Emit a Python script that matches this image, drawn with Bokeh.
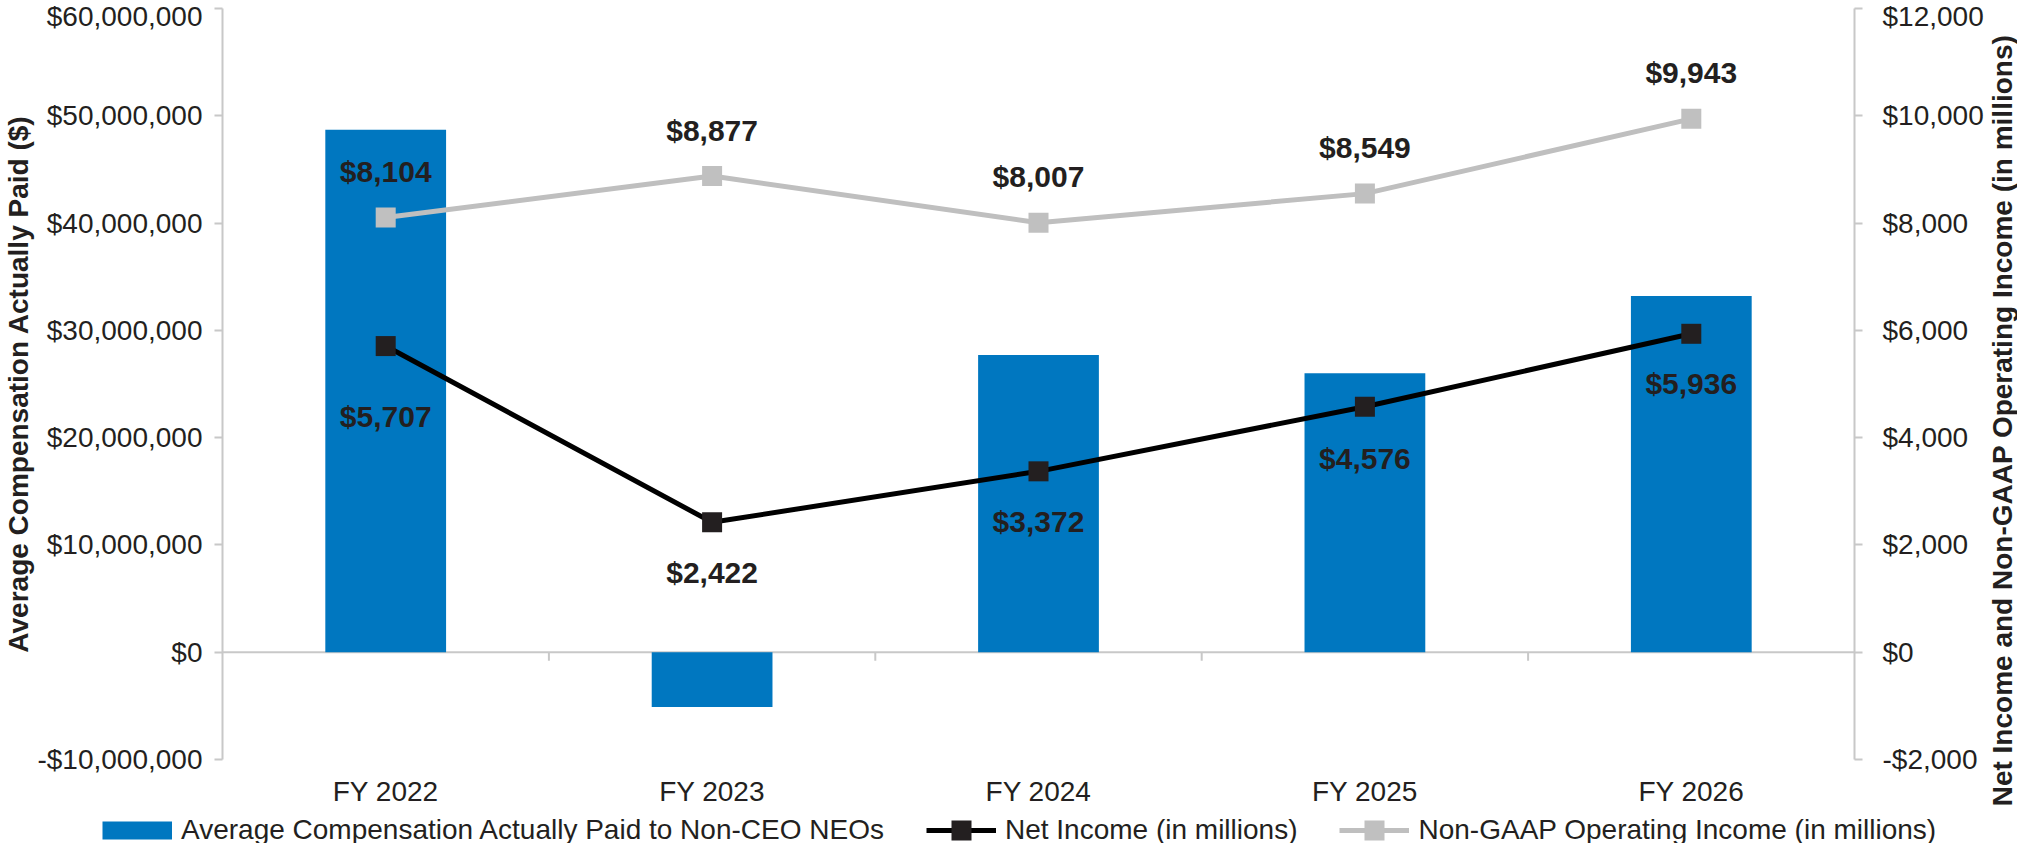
import math
from bokeh.plotting import figure
from bokeh.layouts import row, column
from bokeh.models import (Range1d, LinearAxis, FactorRange, ColumnDataSource, LabelSet, Label,
                          Legend, LegendItem, Span, FixedTicker)
from bokeh.core.properties import value
from bokeh.transform import dodge
from bokeh.embed import file_html
from bokeh.resources import INLINE

# ---- data ----
categories = ["FY 2022", "FY 2023", "FY 2024", "FY 2025", "FY 2026"]
avg_comp_paid = [48700000, -5100000, 27700000, 26000000, 33200000]
net_income = [5707, 2422, 3372, 4576, 5936]
non_gaap_op_income = [8104, 8877, 8007, 8549, 9943]

left_ticks = [-10000000, 0, 10000000, 20000000, 30000000, 40000000, 50000000, 60000000]
left_tick_labels = ["-$10,000,000", "$0", "$10,000,000", "$20,000,000", "$30,000,000",
                    "$40,000,000", "$50,000,000", "$60,000,000"]
right_ticks = [-2000, 0, 2000, 4000, 6000, 8000, 10000, 12000]
right_tick_labels = ["-$2,000", "$0", "$2,000", "$4,000", "$6,000", "$8,000", "$10,000", "$12,000"]

left_title = "Average Compensation Actually Paid ($)"
right_title = "Net Income and Non-GAAP Operating Income (in millions)"
legend_labels = ["Average Compensation Actually Paid to Non-CEO NEOs",
                 "Net Income (in millions)",
                 "Non-GAAP Operating Income (in millions)"]

# ---- styles / layout ----
FONT = "Liberation Sans"
TXT = "#231f20"
BLUE = "#0077c0"
GRAY_LINE = "#bfbfbf"
GRAY_MARK = "#c0c0c0"
AXIS_GRAY = "#c8c8c8"
TOTAL_W, TOTAL_H = 2017, 851
MAIN_W, MAIN_H = 1986, 817
ni_label_offsets = [-70, -50, -50, -52, -50]
ng_label_offsets = [46, 46, 46, 46, 46]

src = ColumnDataSource(dict(
    x=categories,
    comp=avg_comp_paid,
    ni=net_income,
    ng=non_gaap_op_income,
    ni_text=[f"${v:,}" for v in net_income],
    ng_text=[f"${v:,}" for v in non_gaap_op_income],
    ni_off=ni_label_offsets,
    ng_off=ng_label_offsets,
))

p = figure(width=MAIN_W, height=MAIN_H, x_range=FactorRange(factors=categories),
           y_range=Range1d(-10000000, 60000000),
           output_backend="svg", toolbar_location=None,
           min_border_top=8, min_border_left=216, min_border_right=131, min_border_bottom=58)
p.extra_y_ranges = {"right": Range1d(-2000, 12000)}
p.xgrid.visible = False
p.ygrid.visible = False
p.outline_line_color = None
p.background_fill_color = "white"

# zero line and boundary ticks
p.add_layout(Span(location=0, dimension="width", line_color=AXIS_GRAY, line_width=2, level="underlay"))
bsrc = ColumnDataSource(dict(x=categories[:-1], y0=[0] * 4, y1=[-800000] * 4))
p.segment(x0=dodge("x", 0.5, range=p.x_range), x1=dodge("x", 0.5, range=p.x_range),
          y0="y0", y1="y1", source=bsrc, line_color=AXIS_GRAY, line_width=2)

p.vbar(x="x", top="comp", width=0.37, source=src, fill_color=BLUE, line_color=None)

p.line("x", "ni", source=src, y_range_name="right", line_color="black", line_width=5)
p.scatter("x", "ni", source=src, y_range_name="right", marker="square", size=20,
          fill_color=TXT, line_color=None)
p.line("x", "ng", source=src, y_range_name="right", line_color=GRAY_LINE, line_width=5)
p.scatter("x", "ng", source=src, y_range_name="right", marker="square", size=20,
          fill_color=GRAY_MARK, line_color=None)

for fld, txt, off in [("ng", "ng_text", "ng_off"), ("ni", "ni_text", "ni_off")]:
    p.add_layout(LabelSet(x="x", y=fld, text=txt, y_offset=off, source=src, y_range_name="right",
                          text_align="center", text_baseline="middle", text_font=value(FONT),
                          text_font_size="30px", text_font_style="bold", text_color=TXT))

# ---- axes ----
def style_y(ax, standoff):
    ax.axis_line_color = AXIS_GRAY
    ax.axis_line_width = 2
    ax.major_tick_line_color = AXIS_GRAY
    ax.major_tick_line_width = 2
    ax.major_tick_in = 0
    ax.major_tick_out = 8
    ax.minor_tick_line_color = None
    ax.major_label_text_font = FONT
    ax.major_label_text_font_size = "28px"
    ax.major_label_text_color = TXT
    ax.major_label_standoff = standoff
    ax.axis_label_text_font = FONT
    ax.axis_label_text_font_size = "28px"
    ax.axis_label_text_font_style = "bold"
    ax.axis_label_text_color = TXT

ly = p.yaxis[0]
ly.ticker = FixedTicker(ticks=left_ticks)
ly.major_label_overrides = dict(zip(left_ticks, left_tick_labels))
ly.axis_label = left_title
style_y(ly, 12)
ly.axis_label_standoff = 0

ry = LinearAxis(y_range_name="right", ticker=FixedTicker(ticks=right_ticks),
                major_label_overrides=dict(zip(right_ticks, right_tick_labels)))
style_y(ry, 20)
p.add_layout(ry, "right")

xa = p.xaxis[0]
xa.axis_line_color = None
xa.major_tick_line_color = None
xa.minor_tick_line_color = None
xa.major_tick_out = 0
xa.major_tick_in = 0
xa.major_label_text_font = FONT
xa.major_label_text_font_size = "28px"
xa.major_label_text_color = TXT
xa.major_label_standoff = 16

# ---- legend strip (single-point proxy renderers draw nothing) ----
lg = figure(width=MAIN_W, height=TOTAL_H - MAIN_H, x_range=Range1d(0, 1), y_range=Range1d(0, 1),
            output_backend="svg", toolbar_location=None, x_axis_type=None, y_axis_type=None,
            min_border_left=102, min_border_top=0, min_border_right=0, min_border_bottom=8)
lg.outline_line_color = None
lg.grid.visible = False
proxy = ColumnDataSource(dict(x=[0.5], y=[0.5]))
leg_bar = lg.line("x", "y", source=proxy, line_color=BLUE, line_width=18, line_cap="butt")
leg_ni = lg.line("x", "y", source=proxy, line_color="black", line_width=5)
leg_ni_sq = lg.line("x", "y", source=proxy, line_color=TXT, line_width=20, line_cap="butt",
                    line_dash="0 25 20 25")
leg_ng = lg.line("x", "y", source=proxy, line_color=GRAY_LINE, line_width=5)
leg_ng_sq = lg.line("x", "y", source=proxy, line_color=GRAY_MARK, line_width=20, line_cap="butt",
                    line_dash="0 25 20 25")

legend = Legend(items=[
    LegendItem(label=legend_labels[0], renderers=[leg_bar]),
    LegendItem(label=legend_labels[1], renderers=[leg_ni, leg_ni_sq]),
    LegendItem(label=legend_labels[2], renderers=[leg_ng, leg_ng_sq]),
], orientation="horizontal", location="left", glyph_width=70, glyph_height=22,
    label_standoff=9, spacing=42, padding=0, margin=0, border_line_color=None,
    background_fill_alpha=0, label_text_font=FONT, label_text_font_size="28px",
    label_text_color=TXT)
lg.add_layout(legend, "center")

# ---- right-hand title (own full-height strip, reads bottom-to-top) ----
tw = TOTAL_W - MAIN_W
t = figure(width=tw, height=TOTAL_H, x_range=Range1d(0, 1), y_range=Range1d(0, 1),
           output_backend="svg", toolbar_location=None, x_axis_type=None, y_axis_type=None,
           min_border=0)
t.outline_line_color = None
t.grid.visible = False
t.add_layout(Label(x=tw / 2, y=TOTAL_H - 420, x_units="screen", y_units="screen",
                   text=right_title, angle=math.pi / 2, text_align="center", text_baseline="middle",
                   text_font=FONT, text_font_size="28px", text_font_style="bold", text_color=TXT))

layout = row(column(p, row(lg)), t)
open("out.html", "w").write(file_html(layout, INLINE))
